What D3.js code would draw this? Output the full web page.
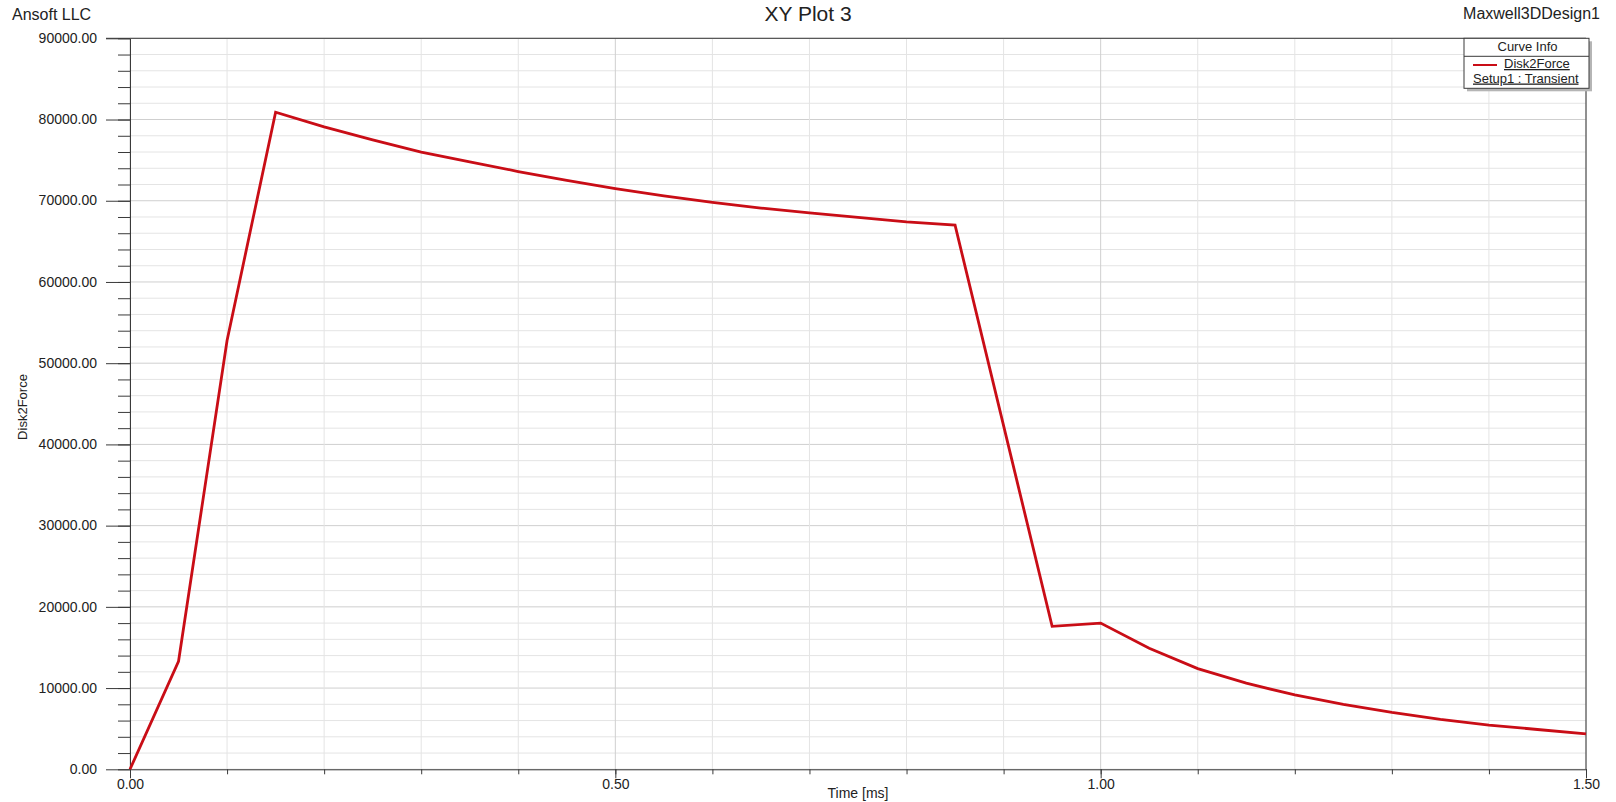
<!DOCTYPE html>
<html>
<head>
<meta charset="utf-8">
<script src="https://cdn.jsdelivr.net/npm/d3@7"></script>
<style>
  html, body { margin: 0; padding: 0; background: #fff; }
  svg { display: block; font-family: "Liberation Sans", Arial, sans-serif; }
  .axis path, .axis line { stroke: #3a3a3a; }
  .axis text { fill: #222; }
</style>
</head>
<body>
<svg id="chart" width="1616" height="802"></svg>
<script>
// Transient force on Disk2, time in ms
const timeMs = [0, 0.05, 0.10, 0.15, 0.20, 0.25, 0.30, 0.35, 0.40, 0.45, 0.50, 0.55, 0.60, 0.65, 0.70,
                0.75, 0.80, 0.85, 0.95, 1.00, 1.05, 1.10, 1.15, 1.20, 1.25, 1.30, 1.35, 1.40, 1.45, 1.50];
const disk2Force = [0, 13300, 52800, 80900, 79100, 77500, 76000, 74800, 73600, 72500, 71500, 70600, 69800, 69100, 68500,
                    67950, 67400, 67000, 17600, 18000, 14900, 12400, 10600, 9150, 8000, 7000, 6150, 5450, 4900, 4350];

const yMajorTicks = [0, 10000, 20000, 30000, 40000, 50000, 60000, 70000, 80000, 90000];
const yMinorTicks = d3.range(0, 90001, 2000);
const xMajorTicks = [0, 0.5, 1.0, 1.5];
const xMinorTicks = d3.range(0, 15.01, 1).map(d => d / 10);

const plotTitle = "XY Plot 3";
const companyLabel = "Ansoft LLC";
const designLabel = "Maxwell3DDesign1";
const xAxisTitle = "Time [ms]";
const yAxisTitle = "Disk2Force";
const seriesName = "Disk2Force";
const setupName = "Setup1 : Transient";

const svg = d3.select("#chart");
const W = 1616, H = 802;
const plotL = 130, plotR = 1586, plotT = 38.3, plotB = 769.3;

svg.append("rect").attr("width", W).attr("height", H).attr("fill", "#fff");

const x = d3.scaleLinear().domain([0, 1.5]).range([plotL, plotR]);
const y = d3.scaleLinear().domain([0, 90000]).range([plotB, plotT]);

// grid
const grid = svg.append("g");
grid.selectAll(".hmin").data(yMinorTicks).join("line")
  .attr("x1", plotL).attr("x2", plotR)
  .attr("y1", d => y(d)).attr("y2", d => y(d))
  .attr("stroke", d => d % 10000 === 0 ? "#cfcfcf" : "#e4e4e4").attr("stroke-width", 1);
grid.selectAll(".vmin").data(xMinorTicks).join("line")
  .attr("y1", plotT).attr("y2", plotB)
  .attr("x1", d => x(d)).attr("x2", d => x(d))
  .attr("stroke", d => Math.abs(d * 2 - Math.round(d * 2)) < 1e-9 ? "#cfcfcf" : "#e4e4e4").attr("stroke-width", 1);

// frame (top and right)
svg.append("line").attr("x1", plotL - 24).attr("x2", plotR).attr("y1", plotT).attr("y2", plotT)
  .attr("stroke", "#3a3a3a");
svg.append("line").attr("x1", plotR).attr("x2", plotR).attr("y1", plotT).attr("y2", plotB)
  .attr("stroke", "#3a3a3a");

// y axis: minor and major ticks
svg.append("g").attr("class", "axis").attr("transform", `translate(${plotL},0)`)
  .call(d3.axisLeft(y).tickValues(yMinorTicks).tickSize(12).tickFormat(""))
  .call(g => g.select(".domain").remove());
svg.append("g").attr("class", "axis").attr("transform", `translate(${plotL},0)`)
  .call(d3.axisLeft(y).tickValues(yMajorTicks).tickSize(24).tickSizeOuter(0).tickPadding(9)
        .tickFormat(d3.format(".2f")))
  .call(g => g.selectAll("text").attr("font-size", 14).attr("font-family", "Liberation Sans, Arial, sans-serif")
        .attr("dy", "0.30em"));

// x axis: minor and major ticks
svg.append("g").attr("class", "axis").attr("transform", `translate(0,${plotB})`)
  .call(d3.axisBottom(x).tickValues(xMinorTicks).tickSize(5).tickFormat(""))
  .call(g => g.select(".domain").remove());
svg.append("g").attr("class", "axis").attr("transform", `translate(0,${plotB})`)
  .call(d3.axisBottom(x).tickValues(xMajorTicks).tickSize(9).tickSizeOuter(0).tickPadding(1)
        .tickFormat(d3.format(".2f")))
  .call(g => g.selectAll("text").attr("font-size", 14).attr("font-family", "Liberation Sans, Arial, sans-serif"));

// curve
const line = d3.line().x((d, i) => x(timeMs[i])).y(d => y(d));
svg.append("path").datum(disk2Force)
  .attr("d", line)
  .attr("fill", "none")
  .attr("stroke", "#c90d16")
  .attr("stroke-width", 2.8)
  .attr("stroke-linejoin", "miter");

// titles
svg.append("text").attr("x", 808).attr("y", 21).attr("text-anchor", "middle")
  .attr("font-size", 21).attr("fill", "#222").text(plotTitle);
svg.append("text").attr("x", 12).attr("y", 20).attr("font-size", 16).attr("fill", "#222").text(companyLabel);
svg.append("text").attr("x", 1600).attr("y", 19).attr("text-anchor", "end")
  .attr("font-size", 16).attr("fill", "#222").text(designLabel);
svg.append("text").attr("x", (plotL + plotR) / 2).attr("y", 798).attr("text-anchor", "middle")
  .attr("font-size", 14).attr("fill", "#222").text(xAxisTitle);
svg.append("text").attr("transform", "translate(27,407) rotate(-90)").attr("text-anchor", "middle")
  .attr("font-size", 13).attr("fill", "#222").text(yAxisTitle);

// legend
const lg = svg.append("g");
const lx = 1464, ly = 38.3, lw = 125, lh = 50;
lg.append("rect").attr("x", lx + 3).attr("y", ly + 3).attr("width", lw).attr("height", lh).attr("fill", "#b5b5b5");
lg.append("rect").attr("x", lx).attr("y", ly).attr("width", lw).attr("height", lh)
  .attr("fill", "#fff").attr("stroke", "#3a3a3a");
lg.append("line").attr("x1", lx).attr("x2", lx + lw).attr("y1", ly + 18).attr("y2", ly + 18).attr("stroke", "#3a3a3a");
lg.append("text").attr("x", lx + lw / 2 + 1).attr("y", ly + 12.5).attr("text-anchor", "middle")
  .attr("font-size", 13).attr("fill", "#222").text("Curve Info");
lg.append("line").attr("x1", 1473).attr("x2", 1497).attr("y1", 65).attr("y2", 65)
  .attr("stroke", "#c90d16").attr("stroke-width", 2);
lg.append("text").attr("x", 1504).attr("y", 68).attr("font-size", 13).attr("fill", "#222")
  .attr("text-decoration", "underline").text(seriesName);
lg.append("text").attr("x", 1473).attr("y", 82.5).attr("font-size", 13).attr("fill", "#222")
  .attr("text-decoration", "underline").text(setupName);
</script>
</body>
</html>
